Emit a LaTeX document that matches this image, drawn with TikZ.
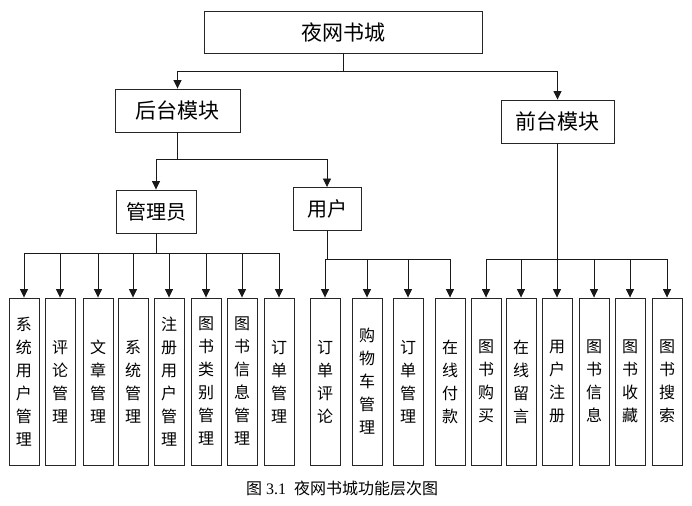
\documentclass[tikz,border=0pt]{standalone}
\usepackage{fontspec}
\setmainfont{Liberation Serif}
\newfontfamily\cjk{Noto Sans CJK SC}
\usetikzlibrary{arrows.meta}

\begin{document}
\begin{tikzpicture}[
    x=1pt, y=-1pt,
    >={Triangle[length=8.5pt, width=8pt]},
    every node/.style={rectangle, draw=black!85, line width=0.9pt, align=center, inner sep=0pt},
    title/.style={minimum width=278pt, minimum height=42pt, font=\cjk\fontsize{21}{25}\selectfont},
    module/.style={minimum height=43pt, font=\cjk\fontsize{21}{25}\selectfont},
    submodule/.style={minimum height=43pt, font=\cjk\fontsize{20}{24}\selectfont},
    leaf/.style={minimum width=30pt, minimum height=167pt, font=\cjk\fontsize{16}{23}\selectfont},
    arrow/.style={->, line width=0.8pt, black!90}
]
    \useasboundingbox (0,0) rectangle (692,505);

    % Root
    \node (root) [title] at (343,32) {夜网书城};

    % Modules
    \node (backend) [module, minimum width=125pt] at (177.5,110.5) {后台模块};
    \node (frontend) [module, minimum width=113pt] at (557.5,121.5) {前台模块};

    % Backend sub modules
    \node (admin) [submodule, minimum width=80pt] at (156,211.5) {管理员};
    \node (user) [submodule, minimum width=68pt] at (327,209) {用户};

    % Admin functions
    \node (sys_user) [leaf] at (24,381.5) {系\\统\\用\\户\\管\\理};
    \node (comment) [leaf] at (60,381.5) {评\\论\\管\\理};
    \node (article) [leaf] at (98,381.5) {文\\章\\管\\理};
    \node (sys_mgmt) [leaf] at (133,381.5) {系\\统\\管\\理};
    \node (reg_user) [leaf] at (169,381.5) {注\\册\\用\\户\\管\\理};
    \node (book_cat) [leaf] at (206,381.5) {图\\书\\类\\别\\管\\理};
    \node (book_info) [leaf] at (242,381.5) {图\\书\\信\\息\\管\\理};
    \node (order_mgmt) [leaf] at (279,381.5) {订\\单\\管\\理};

    % User functions
    \node (order_cmt) [leaf] at (325,381.5) {订\\单\\评\\论};
    \node (cart) [leaf] at (367,381.5) {购\\物\\车\\管\\理};
    \node (user_order) [leaf] at (408,381.5) {订\\单\\管\\理};
    \node (pay) [leaf] at (450,381.5) {在\\线\\付\\款};

    % Frontend functions
    \node (buy) [leaf] at (486,381.5) {图\\书\\购\\买};
    \node (message) [leaf] at (521,381.5) {在\\线\\留\\言};
    \node (register) [leaf] at (557,381.5) {用\\户\\注\\册};
    \node (info) [leaf] at (594,381.5) {图\\书\\信\\息};
    \node (collect) [leaf] at (630,381.5) {图\\书\\收\\藏};
    \node (search) [leaf] at (667,381.5) {图\\书\\搜\\索};

    % Caption
    \node (caption) [draw=none, font=\fontsize{16}{20}\selectfont] at (342,488) {{\cjk 图} 3.1\enspace{\cjk 夜网书城功能层次图}};

    % Root to modules
    \draw [arrow] (root.south) -- ++(0,18) -| (backend);
    \draw [arrow] (root.south) -- ++(0,18) -| (frontend);

    % Backend to sub modules
    \draw [arrow] (backend.south) -- ++(0,27) -| (admin);
    \draw [arrow] (backend.south) -- ++(0,27) -| (user);

    % Admin to functions
    \draw [arrow] (admin.south) -- ++(0,20) -| (sys_user);
    \draw [arrow] (admin.south) -- ++(0,20) -| (comment);
    \draw [arrow] (admin.south) -- ++(0,20) -| (article);
    \draw [arrow] (admin.south) -- ++(0,20) -| (sys_mgmt);
    \draw [arrow] (admin.south) -- ++(0,20) -| (reg_user);
    \draw [arrow] (admin.south) -- ++(0,20) -| (book_cat);
    \draw [arrow] (admin.south) -- ++(0,20) -| (book_info);
    \draw [arrow] (admin.south) -- ++(0,20) -| (order_mgmt);

    % User to functions
    \draw [arrow] (user.south) -- ++(0,28) -| (order_cmt);
    \draw [arrow] (user.south) -- ++(0,28) -| (cart);
    \draw [arrow] (user.south) -- ++(0,28) -| (user_order);
    \draw [arrow] (user.south) -- ++(0,28) -| (pay);

    % Frontend to functions
    \draw [arrow] (frontend.south) -- ++(0,116) -| (buy);
    \draw [arrow] (frontend.south) -- ++(0,116) -| (message);
    \draw [arrow] (frontend.south) -- ++(0,116) -| (register);
    \draw [arrow] (frontend.south) -- ++(0,116) -| (info);
    \draw [arrow] (frontend.south) -- ++(0,116) -| (collect);
    \draw [arrow] (frontend.south) -- ++(0,116) -| (search);

\end{tikzpicture}
\end{document}
